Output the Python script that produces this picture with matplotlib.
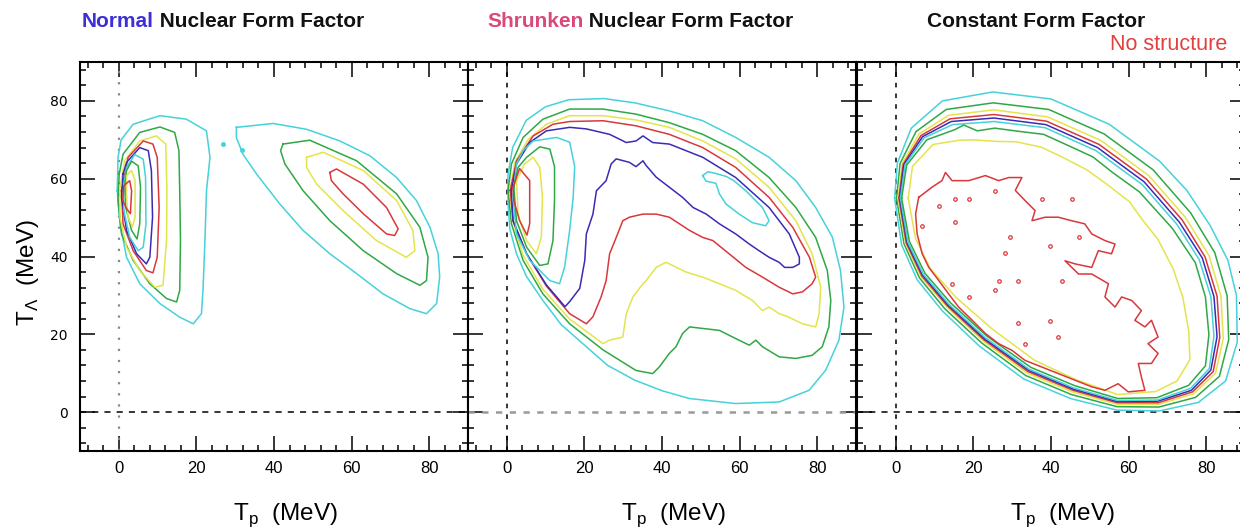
import matplotlib
matplotlib.use('Agg')
import matplotlib.pyplot as plt
from matplotlib.ticker import MultipleLocator

plt.rcParams['font.family'] = ['Liberation Sans', 'DejaVu Sans']

CYAN, GREEN, YELLOW, RED, BLUE = '#45d2da', '#2fa845', '#e4e44c', '#d8383c', '#3a2bb5'

# ---------------- Normal nuclear form factor (Tp, TLambda in MeV) ----------------
n_cyan1 = [(-0.4, 56.9), (-0.2, 65.5), (0.6, 70.0), (3.7, 74.0), (10.6, 76.2), (17.4, 75.3),
           (22.6, 72.3), (23.5, 65.5), (22.6, 56.9), (22.2, 44.1), (21.7, 31.3), (21.3, 25.3),
           (19.2, 22.7), (15.7, 24.4), (10.6, 27.9), (5.4, 33.0), (2.0, 39.8), (0.3, 48.4)]
n_green2 = [(0.1, 61.2), (1.1, 66.3), (5.4, 71.9), (10.6, 73.3), (14.4, 71.9), (15.5, 67.2),
            (15.7, 56.9), (15.9, 44.1), (15.7, 31.3), (14.9, 28.3), (12.3, 29.2), (8.0, 33.0),
            (3.7, 39.0), (0.7, 45.8), (-0.2, 54.4)]
n_yellow3 = [(0.3, 57.8), (1.5, 64.6), (5.4, 69.7), (9.7, 71.0), (12.1, 68.9), (12.4, 56.9),
             (12.3, 44.1), (11.4, 32.6), (9.3, 32.1), (5.4, 36.4), (2.0, 42.4), (0.3, 50.1)]
n_red4 = [(0.7, 56.9), (2.4, 65.5), (6.3, 69.7), (8.8, 68.9), (9.9, 65.5), (10.4, 52.6),
          (9.9, 39.8), (8.8, 35.8), (7.1, 36.4), (3.7, 41.5), (1.1, 48.4)]
n_blue5 = [(1.1, 61.2), (2.0, 64.2), (5.4, 68.0), (7.6, 67.2), (8.4, 62.1), (8.7, 50.1),
           (8.0, 39.8), (7.1, 38.1), (4.6, 40.7), (2.0, 46.7), (0.7, 55.2)]
n_cyan6 = [(1.3, 58.6), (2.0, 62.9), (4.1, 66.2), (6.3, 65.0), (6.9, 60.3), (7.0, 48.4),
           (6.3, 42.4), (5.0, 41.5), (2.8, 45.0), (1.3, 51.8)]
n_green7 = [(1.6, 58.6), (2.0, 62.1), (3.3, 64.5), (5.0, 63.3), (5.6, 57.8), (5.4, 48.4),
            (4.7, 44.5), (3.3, 46.7), (1.8, 52.6)]
n_yellow8 = [(2.0, 55.2), (2.0, 60.8), (3.3, 62.1), (4.2, 59.5), (4.2, 50.1), (3.5, 47.6), (2.4, 50.1)]
n_red9 = [(1.0, 54.4), (1.3, 58.2), (2.8, 59.5), (3.3, 56.9), (3.0, 51.0), (2.0, 52.3)]
# second (high Tp) lobe
n_cyan1b = [(30.3, 73.2), (39.8, 74.2), (48.4, 72.7), (57.0, 69.7), (64.7, 65.9), (71.6, 60.3),
            (76.7, 54.4), (80.2, 47.5), (82.3, 40.7), (82.7, 34.7), (81.9, 27.9), (79.3, 25.3),
            (75.0, 26.6), (68.1, 30.4), (61.3, 35.6), (54.4, 40.7), (47.5, 46.7), (41.5, 53.5),
            (35.5, 61.2), (32.0, 66.3), (30.3, 70.6)]
n_green2b = [(42.3, 68.9), (49.2, 69.9), (61.3, 64.6), (71.6, 56.1), (77.6, 47.5), (79.7, 39.8),
             (79.3, 33.8), (77.6, 32.6), (71.6, 35.6), (63.0, 41.5), (54.4, 49.2), (47.5, 56.9),
             (42.8, 63.8), (41.7, 67.2)]
n_yellow3b = [(48.4, 65.5), (52.7, 66.8), (63.0, 62.1), (71.6, 54.4), (75.8, 46.7), (76.3, 41.5),
              (74.1, 39.8), (66.4, 44.1), (57.8, 51.8), (51.0, 58.6), (48.4, 62.9)]
n_red4b = [(54.4, 61.6), (56.1, 62.5), (63.0, 58.6), (69.0, 52.6), (72.0, 47.1), (71.1, 45.4),
           (69.0, 45.8), (63.0, 51.0), (57.8, 56.1), (54.8, 59.5)]
n_specks = [(26.9, 68.9), (31.8, 67.4)]

# ---------------- Shrunken nuclear form factor ----------------
s_cyan1 = [(0.3, 54.0), (0.3, 61.0), (1.5, 68.0), (5.0, 75.0), (10.0, 78.5), (16.0, 80.3),
           (25.0, 80.6), (33.0, 79.5), (42.0, 77.4), (50.5, 74.9), (59.0, 70.6), (67.6, 65.5),
           (74.5, 59.5), (79.6, 52.6), (83.9, 45.0), (86.0, 36.4), (86.9, 27.0), (85.6, 18.5),
           (82.2, 10.8), (77.9, 5.6), (70.2, 2.6), (59.0, 2.2), (47.0, 3.5), (40.0, 5.5),
           (33.0, 8.2), (26.0, 12.0), (20.5, 16.8), (14.0, 22.5), (9.3, 28.7), (5.0, 35.0),
           (2.5, 40.7), (0.8, 47.0)]
s_green2 = [(0.35, 57.0), (1.2, 63.8), (4.2, 70.6), (9.3, 75.3), (16.2, 77.9), (24.8, 77.9),
            (33.3, 76.6), (41.9, 74.4), (50.5, 71.4), (59.0, 67.2), (67.6, 60.3), (74.5, 52.6),
            (79.6, 44.9), (82.6, 36.4), (83.5, 28.7), (83.0, 21.9), (81.3, 16.8), (78.7, 14.6),
            (74.5, 13.8), (70.2, 14.2), (65.9, 16.8), (64.2, 18.5), (62.5, 17.2), (59.0, 18.9),
            (54.8, 21.0), (50.5, 21.5), (47.1, 21.9), (45.3, 20.2), (43.6, 16.8), (41.9, 15.1),
            (39.3, 11.6), (37.6, 9.9), (33.3, 10.7), (24.8, 16.0), (16.2, 22.7), (9.3, 30.4),
            (4.2, 39.0), (1.2, 48.4)]
s_yellow3 = [(0.8, 57.0), (2.1, 64.2), (5.5, 70.1), (10.2, 74.0), (16.2, 76.2), (24.8, 76.2),
             (33.3, 75.1), (41.9, 73.2), (50.5, 69.7), (59.0, 65.1), (67.6, 57.8), (74.5, 49.2),
             (78.7, 40.7), (80.9, 32.1), (80.5, 25.3), (79.6, 21.9), (76.2, 22.7), (72.5, 24.5),
             (70.2, 25.3), (67.6, 27.0), (65.9, 26.1), (63.3, 28.7), (59.0, 31.3), (54.8, 33.0),
             (50.5, 34.7), (46.2, 36.0), (41.9, 38.1), (41.0, 38.5), (38.5, 37.2), (35.9, 33.8),
             (35.1, 33.0), (32.5, 29.6), (30.8, 25.3), (29.9, 19.3), (26.5, 18.5), (24.8, 17.6),
             (16.2, 23.9), (9.3, 31.6), (4.2, 40.3), (1.5, 49.2)]
s_red4 = [(0.9, 57.0), (2.5, 64.6), (6.8, 71.0), (11.9, 74.0), (16.2, 74.7), (24.8, 74.9),
          (33.3, 73.6), (41.9, 71.4), (50.5, 68.0), (59.0, 62.9), (67.6, 55.2), (73.7, 47.5),
          (78.0, 39.8), (79.6, 34.7), (78.7, 33.0), (76.2, 30.9), (73.7, 30.4), (70.2, 32.1),
          (65.9, 34.7), (61.6, 37.2), (57.3, 40.7), (53.1, 44.1), (50.5, 44.9), (47.1, 46.7),
          (44.5, 48.4), (41.9, 50.1), (38.5, 50.9), (35.1, 50.9), (31.6, 50.1), (29.9, 49.2),
          (28.2, 44.9), (26.5, 40.7), (25.6, 33.8), (24.3, 29.6), (22.2, 24.5), (20.5, 22.7),
          (16.2, 25.3), (10.2, 32.4), (5.1, 40.7), (1.6, 49.2)]
s_blue5 = [(1.2, 57.0), (2.5, 63.8), (5.9, 69.3), (10.2, 72.3), (16.2, 73.2), (20.5, 72.8),
           (26.5, 71.4), (30.8, 69.3), (33.3, 69.7), (35.1, 71.0), (37.6, 69.3), (41.9, 68.9),
           (50.5, 65.5), (59.0, 60.3), (67.6, 52.6), (72.8, 45.8), (75.4, 39.8), (75.4, 38.1),
           (73.7, 37.2), (71.6, 37.2), (70.2, 38.5), (67.6, 39.8), (65.0, 41.5), (62.5, 43.2),
           (59.0, 45.8), (54.8, 48.4), (51.4, 50.9), (48.0, 52.6), (45.3, 55.2), (41.9, 57.8),
           (38.5, 60.4), (35.9, 63.4), (35.1, 64.6), (33.3, 63.1), (31.6, 64.2), (28.2, 65.1),
           (26.9, 63.8), (25.6, 59.5), (23.1, 56.9), (22.2, 50.9), (20.5, 45.8), (20.1, 39.0),
           (18.8, 31.8), (16.2, 28.4), (15.0, 27.1), (10.2, 32.7), (5.1, 40.7), (1.6, 49.2)]
s_cyan6a = [(1.6, 55.2), (2.5, 63.8), (4.2, 67.2), (6.8, 69.7), (12.8, 70.6), (16.2, 69.4),
            (17.5, 63.1), (17.1, 55.2), (16.2, 46.7), (14.9, 37.3), (13.6, 33.0), (11.1, 33.8),
            (5.9, 39.0), (2.5, 45.8)]
s_cyan6b = [(50.5, 60.8), (51.8, 61.8), (54.0, 61.3), (56.5, 60.6), (58.5, 59.5), (61.6, 56.9),
            (65.9, 52.6), (67.6, 49.2), (66.7, 47.9), (63.3, 48.7), (59.9, 50.9), (56.5, 53.5),
            (54.8, 56.1), (53.9, 58.8), (51.3, 59.4)]
s_green7 = [(1.8, 57.8), (2.9, 62.9), (5.1, 65.5), (8.5, 68.2), (11.1, 67.6), (12.3, 63.1),
            (12.3, 54.5), (11.9, 44.1), (10.6, 38.1), (8.5, 37.7), (5.1, 42.4), (2.5, 49.2)]
s_yellow8 = [(2.5, 59.5), (4.6, 63.8), (6.8, 65.5), (8.5, 62.9), (9.2, 55.2), (8.9, 44.9),
             (7.6, 40.7), (5.1, 44.1), (2.9, 50.9)]
s_red9 = [(1.6, 57.8), (3.3, 62.6), (5.9, 59.5), (5.9, 48.4), (5.2, 45.5), (3.3, 49.2), (1.8, 54.4)]

# ---------------- Constant form factor ----------------
c_cyan1 = [(-0.3, 55), (1.5, 43), (5.5, 34), (12, 26), (21.5, 17), (33, 8.5), (45, 3.5), (57, 0.5),
           (68, 0.3), (78, 2.5), (85, 8), (88, 18), (87.8, 30), (85.6, 39), (81, 48), (75, 57),
           (68, 64.5), (55, 74), (40, 80.5), (25, 82.3), (12, 80), (4, 73), (0.4, 64)]
c_green2 = [(0.2, 55), (2.1, 43.3), (6.1, 34.5), (12.6, 26.6), (22.1, 17.8), (33.5, 9.4),
            (45.3, 4.5), (57, 1.4), (67.8, 1.3), (77.3, 3.8), (83.4, 9.2), (85.8, 18.6),
            (85.4, 29.9), (82.2, 41.0), (76, 51.2), (66.3, 62.3), (53.7, 71.5), (39.4, 77.8),
            (25.1, 79.5), (13.0, 77.8), (5.2, 72.1), (1.1, 63.9)]
c_yellow3 = [(0.6, 55), (2.5, 43.4), (6.5, 34.8), (13.1, 27.1), (22.5, 18.3), (33.9, 10.0),
             (45.5, 5.2), (57.1, 2.0), (67.7, 2.0), (76.8, 4.7), (82.4, 10.0), (84.4, 18.9),
             (83.8, 29.8), (80.7, 40.3), (74.6, 50.1), (65.2, 60.8), (52.9, 69.8), (39.1, 75.9),
             (25.2, 77.7), (13.6, 76.3), (6, 71.5), (1.6, 63.8)]
c_red4 = [(0.8, 55), (2.7, 43.5), (6.7, 35.0), (13.3, 27.3), (22.7, 18.6), (34.1, 10.4),
          (45.7, 5.6), (57.1, 2.4), (67.6, 2.4), (76.5, 5.2), (81.8, 10.4), (83.5, 19.2),
          (82.8, 29.8), (79.7, 39.9), (73.8, 49.4), (64.6, 59.9), (52.4, 68.8), (38.8, 74.8),
          (25.3, 76.5), (14, 75.4), (6.5, 71.1), (1.9, 63.7)]
c_blue5 = [(1.0, 55), (2.9, 43.6), (6.9, 35.2), (13.5, 27.5), (22.9, 18.8), (34.3, 10.7),
           (45.8, 5.9), (57.1, 2.7), (67.5, 2.8), (76.2, 5.6), (81.2, 10.8), (82.8, 19.4),
           (82.0, 29.7), (79.0, 39.6), (73.1, 48.8), (64.0, 59.2), (52.0, 68.0), (38.7, 73.9),
           (25.3, 75.6), (14.3, 74.7), (6.9, 70.8), (2.1, 63.6)]
c_cyan6 = [(1.2, 55), (3.1, 43.7), (7.1, 35.4), (13.7, 27.7), (23.1, 19.1), (34.4, 11.0),
           (45.9, 6.2), (57.1, 3.0), (67.4, 3.1), (76, 6.1), (80.8, 11.2), (82.0, 19.5),
           (81.2, 29.7), (78.2, 39.2), (72.5, 48.2), (63.5, 58.5), (51.6, 67.2), (38.5, 73.1),
           (25.4, 74.7), (14.6, 73.9), (7.3, 70.5), (2.4, 63.6)]
c_green7 = [(1.5, 55), (3.5, 43.9), (7.5, 35.7), (14.1, 28.1), (23.4, 19.6), (34.8, 11.5),
            (46.1, 6.8), (57.2, 3.5), (67.3, 3.7), (75.5, 6.9), (79.8, 11.9), (80.7, 19.9),
            (79.8, 29.6), (77.2, 38.4), (71.3, 47.2), (62.8, 56.6), (56, 61.5), (50.8, 65.6),
            (44.5, 68.5), (38.1, 71.4), (31.5, 72.2), (25.5, 73.0), (21, 72.3), (17.5, 73.8),
            (15.2, 72.6), (8, 70), (2.8, 63.5)]
c_yellow8 = [(3.2, 55), (5.1, 44.6), (8.9, 36.9), (15.5, 29.5), (24.8, 21.4), (35.8, 13.3),
             (46.5, 8.3), (57.2, 4.5), (67, 5.3), (72.5, 8.0), (75.8, 13.5), (75.5, 20.8),
             (74.0, 29.4), (71.5, 36.8), (67.5, 44.5), (63.5, 49.5), (60.2, 54.1), (54.5, 58.5),
             (49.2, 62.3), (43, 65.5), (37.5, 68.1), (31, 69.5), (25.6, 69.6), (20, 70),
             (16.4, 69.9), (9.6, 68.8), (4.3, 63.2)]
c_red9 = [(5.9, 55.2), (9.3, 57.8), (11.9, 59.5), (12.8, 61.6), (14.5, 59.5), (18.8, 59.5),
          (23.1, 60.8), (26.5, 59.5), (29.1, 60.3), (32.5, 60.3), (30.8, 57.0), (33.3, 54.4),
          (35.9, 51.8), (35.1, 49.2), (38.5, 50.1), (41.9, 50.1), (45.3, 49.2), (48.7, 48.4),
          (50.5, 45.8), (53.9, 44.1), (56.5, 43.2), (55.6, 40.7), (52.2, 41.5), (50.5, 37.2),
          (46.2, 38.1), (43.6, 38.9), (47.1, 35.5), (50.5, 35.5), (54.8, 33.0), (53.9, 29.6),
          (56.5, 27.0), (58.2, 29.6), (60.8, 28.7), (63.3, 26.1), (61.6, 23.6), (64.2, 21.9),
          (65.9, 23.6), (67.6, 19.3), (65.0, 17.6), (67.6, 15.1), (65.9, 12.5), (62.5, 12.5),
          (63.3, 9.0), (64.2, 5.6), (59.9, 5.2), (57.3, 7.3), (53.9, 5.6), (50.5, 6.5),
          (46.2, 8.2), (41.9, 9.9), (37.6, 11.6), (33.3, 13.3), (29.9, 15.9), (26.5, 17.6),
          (23.1, 20.2), (19.7, 23.6), (16.2, 27.0), (13.6, 30.4), (11.1, 33.8), (8.5, 37.2),
          (6.8, 40.7), (5.5, 45.8), (5.1, 50.9)]
c_specks = [(11.1, 53.1), (15.3, 54.7), (18.8, 54.7), (25.6, 56.9), (37.6, 54.7), (45.3, 54.7),
            (6.8, 47.9), (15.3, 48.8), (29.5, 44.9), (28.2, 41.0), (39.8, 42.7), (47.1, 45.0),
            (26.5, 33.8), (31.6, 33.8), (42.8, 33.8), (25.6, 31.3), (31.6, 22.9), (39.8, 23.3),
            (41.9, 19.4), (33.3, 17.5), (14.5, 33.0), (18.8, 29.6)]

normal_loops = [(n_cyan1, CYAN), (n_green2, GREEN), (n_yellow3, YELLOW), (n_red4, RED),
                (n_blue5, BLUE), (n_cyan6, CYAN), (n_green7, GREEN), (n_yellow8, YELLOW),
                (n_red9, RED), (n_cyan1b, CYAN), (n_green2b, GREEN), (n_yellow3b, YELLOW),
                (n_red4b, RED)]
shrunk_loops = [(s_cyan1, CYAN), (s_green2, GREEN), (s_yellow3, YELLOW), (s_red4, RED),
                (s_blue5, BLUE), (s_cyan6a, CYAN), (s_cyan6b, CYAN), (s_green7, GREEN),
                (s_yellow8, YELLOW), (s_red9, RED)]
const_loops = [(c_cyan1, CYAN), (c_green2, GREEN), (c_yellow3, YELLOW), (c_red4, RED),
               (c_blue5, BLUE), (c_cyan6, CYAN), (c_green7, GREEN), (c_yellow8, YELLOW),
               (c_red9, RED)]


def draw_loops(ax, loops):
    for pts, col in loops:
        xs = [p[0] for p in pts] + [pts[0][0]]
        ys = [p[1] for p in pts] + [pts[0][1]]
        ax.plot(xs, ys, color=col, lw=1.1, solid_joinstyle='round')


fig = plt.figure(figsize=(12.4, 5.32), dpi=100)
lefts = [80, 468, 857]
axes = [fig.add_axes([l / 1240, 81 / 532, 388 / 1240, 389 / 532]) for l in lefts]

for i, ax in enumerate(axes):
    ax.set_xlim(-10, 90)
    ax.set_ylim(-10, 90)
    ax.xaxis.set_major_locator(MultipleLocator(20))
    ax.xaxis.set_minor_locator(MultipleLocator(4))
    ax.yaxis.set_major_locator(MultipleLocator(20))
    ax.yaxis.set_minor_locator(MultipleLocator(4))
    ax.tick_params(which='both', direction='in', top=True, right=True, width=1.1)
    ax.tick_params(which='major', length=11)
    ax.tick_params(which='minor', length=4)
    ax.tick_params(axis='x', pad=7, labelsize=12)
    ax.tick_params(axis='y', pad=9, labelsize=10)
    for sp in ax.spines.values():
        sp.set_linewidth(1.5)
    if i == 0:
        for lab in ax.get_yticklabels():
            lab.set_family('DejaVu Sans')
    else:
        ax.tick_params(labelleft=False)
    ax.text(0.53, -0.165, r'T$_\mathregular{p}$  (MeV)', transform=ax.transAxes,
            ha='center', va='center', fontsize=17.5)

# reference lines at zero
axes[0].axvline(0, color='#888888', lw=1.6, dashes=(1, 4))
axes[0].axhline(0, color='black', lw=1.1, dashes=(4, 4))
axes[1].axvline(0, color='black', lw=1.1, dashes=(3, 4))
axes[1].axhline(0, color='#999999', lw=1.8, dashes=(2.5, 3))
axes[2].axvline(0, color='black', lw=1.1, dashes=(3, 4))
axes[2].axhline(0, color='black', lw=1.1, dashes=(4, 4))

draw_loops(axes[0], normal_loops)
draw_loops(axes[1], shrunk_loops)
draw_loops(axes[2], const_loops)
axes[0].plot([p[0] for p in n_specks], [p[1] for p in n_specks], 'o', color=CYAN, ms=2.5)
axes[2].plot([p[0] for p in c_specks], [p[1] for p in c_specks], 'o', color=RED, ms=2.5,
             mfc='none', mew=0.9)

fig.text(28 / 1240, 260 / 532, r'T$_\mathregular{\Lambda}$  (MeV)', rotation=90,
         ha='center', va='center', fontsize=17.5)

# titles
TSIZE = 15
t1 = fig.text(82 / 1240, 1 - 27 / 532, 'Normal', color='#3d2fd6', fontsize=TSIZE,
              weight='bold', va='baseline')
plt.annotate(' Nuclear Form Factor', xy=(1, 0), xycoords=t1, va='bottom', fontsize=TSIZE,
             weight='bold', color='#111111')
t2 = fig.text(487 / 1240, 1 - 27 / 532, 'Shrunken', color='#d94a78', fontsize=TSIZE,
              weight='bold', va='baseline')
plt.annotate(' Nuclear Form Factor', xy=(1, 0), xycoords=t2, va='bottom', fontsize=TSIZE,
             weight='bold', color='#111111')
fig.text(927 / 1240, 1 - 27 / 532, 'Constant Form Factor', fontsize=TSIZE, weight='bold',
         va='baseline', color='#111111')
fig.text(1110 / 1240, 1 - 50 / 532, 'No structure', fontsize=15.5, color='#e0413f',
         va='baseline')

fig.savefig('out.png', dpi=100)
